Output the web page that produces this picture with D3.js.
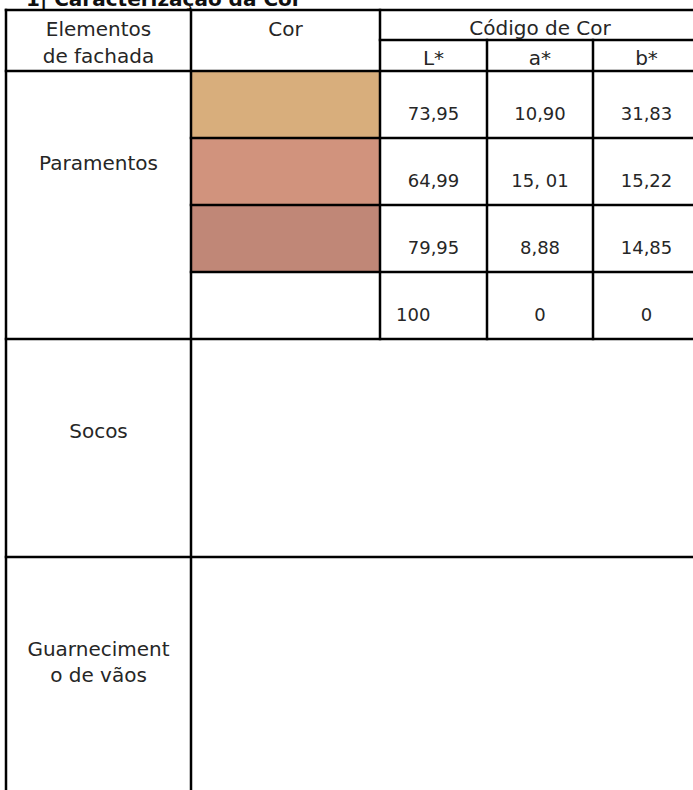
<!DOCTYPE html>
<html lang="pt">
<head>
    <meta charset="UTF-8">
    <title>Caracterização da Cor</title>
    <script src="https://d3js.org/d3.v7.min.js"></script>
    <style>
        body { margin: 0; background: #fff; }
    </style>
</head>
<body>
    <script>
        // Table content
        const title = "1| Caracterização da Cor";
        const headerTop = ["Elementos", "Cor", "Código de Cor"];
        const headerSub = ["L*", "a*", "b*"];
        const elements = [
            { lines: ["Paramentos"], rows: 4 },
            { lines: ["Socos"], rows: 1 },
            { lines: ["Guarneciment", "o de vãos"], rows: 1 }
        ];
        const swatchColors = ["#d8ae7c", "#d1937d", "#c08777", "#ffffff"];
        const valuesL = ["73,95", "64,99", "79,95", "100"];
        const valuesA = ["10,90", "15, 01", "8,88", "0"];
        const valuesB = ["31,83", "15,22", "14,85", "0"];

        const width = 693, height = 790;
        const font = "'DejaVu Sans', sans-serif";
        const ink = "#262626";

        const svg = d3.select("body")
            .append("svg")
            .attr("width", width)
            .attr("height", height);

        // column edges and row edges
        const xEdge = d3.scaleOrdinal()
            .domain(["elem", "cor", "L", "a", "b", "end"])
            .range([6, 191, 380, 487, 593, 700]);
        const yEdge = d3.scaleOrdinal()
            .domain(["top", "sub", "head", "p1", "p2", "p3", "p4", "socos", "guarn"])
            .range([10, 40, 71, 138, 205, 272, 339, 557, 800]);

        const swatchRows = ["head", "p1", "p2", "p3"];
        const nextRow = { head: "p1", p1: "p2", p2: "p3", p3: "p4" };

        // title (partly cut off at top, as in the source)
        svg.append("text")
            .attr("x", 26)
            .attr("y", 6)
            .attr("font-family", font)
            .attr("font-weight", "bold")
            .attr("font-size", "20px")
            .attr("fill", "#111")
            .text(title);

        // swatches
        svg.selectAll("rect.swatch")
            .data(swatchColors)
            .enter()
            .append("rect")
            .attr("class", "swatch")
            .attr("x", xEdge("cor"))
            .attr("y", (d, i) => yEdge(swatchRows[i]))
            .attr("width", xEdge("L") - xEdge("cor"))
            .attr("height", (d, i) => yEdge(nextRow[swatchRows[i]]) - yEdge(swatchRows[i]))
            .attr("fill", d => d);

        // grid lines
        const lines = [];
        const L = x => xEdge(x), T = y => yEdge(y);
        // horizontals
        lines.push([L("elem"), T("top"), L("end"), T("top")]);
        lines.push([L("L"), T("sub"), L("end"), T("sub")]);
        lines.push([L("elem"), T("head"), L("end"), T("head")]);
        ["p1", "p2", "p3"].forEach(r => lines.push([L("cor"), T(r), L("end"), T(r)]));
        lines.push([L("elem"), T("p4"), L("end"), T("p4")]);
        lines.push([L("elem"), T("socos"), L("end"), T("socos")]);
        // verticals
        lines.push([L("elem"), T("top"), L("elem"), T("guarn")]);
        lines.push([L("cor"), T("top"), L("cor"), T("guarn")]);
        lines.push([L("L"), T("top"), L("L"), T("p4")]);
        lines.push([L("a"), T("sub"), L("a"), T("p4")]);
        lines.push([L("b"), T("sub"), L("b"), T("p4")]);
        lines.push([L("end"), T("top"), L("end"), T("guarn")]);

        svg.selectAll("line.grid")
            .data(lines)
            .enter()
            .append("line")
            .attr("class", "grid")
            .attr("x1", d => d[0]).attr("y1", d => d[1])
            .attr("x2", d => d[2]).attr("y2", d => d[3])
            .attr("stroke", "#000")
            .attr("stroke-width", 2.5)
            .attr("stroke-linecap", "square");

        const txt = (x, y, s, anchor, size) => svg.append("text")
            .attr("x", x)
            .attr("y", y)
            .attr("text-anchor", anchor || "middle")
            .attr("font-family", font)
            .attr("font-size", (size || 20) + "px")
            .attr("fill", ink)
            .text(s);

        const mid = (a, b) => (xEdge(a) + xEdge(b)) / 2;

        // header
        txt(mid("elem", "cor"), 36, headerTop[0]);
        txt(mid("elem", "cor"), 63, "de fachada");
        txt(mid("cor", "L"), 36, headerTop[1]);
        txt(mid("L", "end"), 35, headerTop[2]);
        const subCols = [["L", "a"], ["a", "b"], ["b", "end"]];
        headerSub.forEach((s, i) => txt(mid(subCols[i][0], subCols[i][1]), 65, s));

        // values
        const valueRows = ["head", "p1", "p2", "p3"];
        [valuesL, valuesA, valuesB].forEach((vals, c) => {
            vals.forEach((v, r) => {
                const y = yEdge(valueRows[r]) + 49;
                if (c === 0 && r === 3) {
                    txt(xEdge("L") + 16, y, v, "start", 18);
                } else {
                    txt(mid(subCols[c][0], subCols[c][1]), y, v, "middle", 18);
                }
            });
        });

        // element labels
        const elemTops = ["head", "p4", "socos"];
        elements.forEach((el, i) => {
            el.lines.forEach((s, j) => {
                txt(mid("elem", "cor"), yEdge(elemTops[i]) + 99 + j * 26, s);
            });
        });
    </script>
</body>
</html>
